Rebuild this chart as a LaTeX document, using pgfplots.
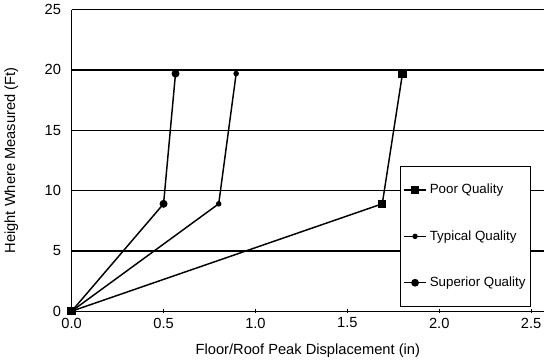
\documentclass[border=0pt]{standalone}
\usepackage{pgfplots}
\pgfplotsset{compat=1.18}
\usepackage{fontspec}
\setmainfont{Liberation Sans}
\begin{document}
\begin{tikzpicture}[trim axis right]
\begin{axis}[
  scale only axis,
  width=354pt, height=226pt,
  xmin=0, xmax=2.57, ymin=0, ymax=25,
  axis x line=bottom, axis y line=left,
  axis line style={-, line width=1pt},
  xtick={0,0.5,...,2.5}, ytick={0,5,...,25},
  xticklabels={0.0,0.5,1.0,1.5,2.0,2.5},
  /pgf/number format/assume math mode=true,
  ticklabel style={font=\fontsize{11}{13}\selectfont},
  yticklabel style={xshift=-3pt},
  x tick style={black, line width=0.6pt},
  y tick style={draw=none},
  major tick length=3pt,
  ymajorgrids, grid style={black, line width=1pt},
  xlabel={Floor/Roof Peak Displacement (in)},
  ylabel={Height Where Measured (Ft)},
  label style={font=\fontsize{11}{13}\selectfont},
  xlabel style={yshift=-5pt},
  ylabel shift=13pt,
  legend style={at={(0.695,0.48)}, anchor=north west, draw=black, line width=0.6pt,
    font=\fontsize{10}{12}\selectfont, row sep=22pt, inner ysep=11pt, inner xsep=2pt,
    legend cell align=left},
  legend image post style={line width=1pt},
]
\addplot[black, line width=1.1pt, mark=square*, mark size=2.6pt] coordinates {(0,0) (1.69,8.9) (1.80,19.7)};
\addlegendentry{Poor Quality}
\addplot[black, line width=1.1pt, mark=*, mark size=1.5pt] coordinates {(0,0) (0.80,8.9) (0.895,19.7)};
\addlegendentry{Typical Quality}
\addplot[black, line width=1.1pt, mark=*, mark size=2.4pt] coordinates {(0,0) (0.50,8.9) (0.565,19.7)};
\addlegendentry{Superior Quality}
\end{axis}
\end{tikzpicture}
\end{document}
